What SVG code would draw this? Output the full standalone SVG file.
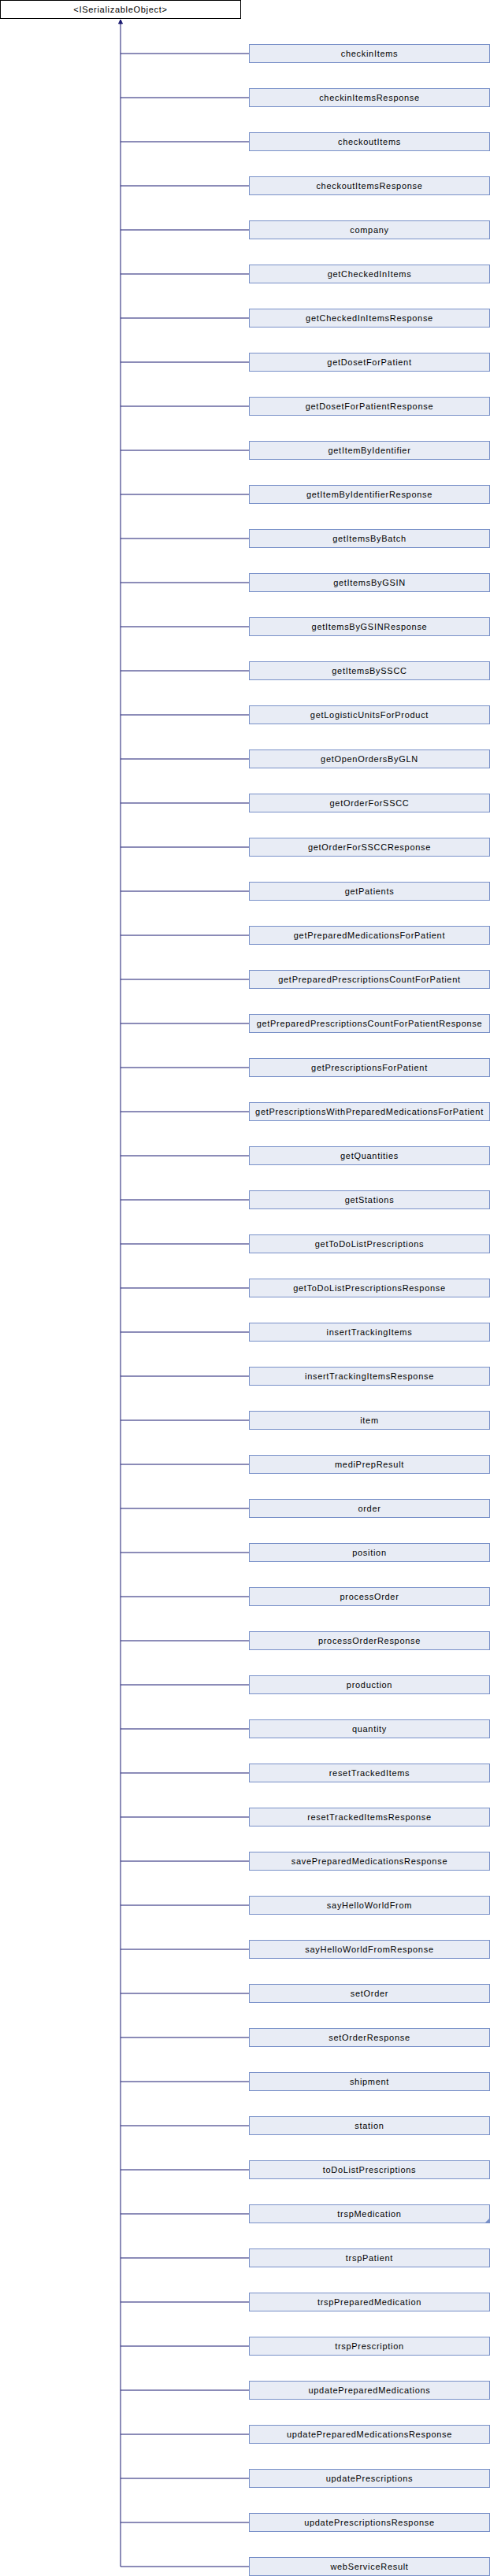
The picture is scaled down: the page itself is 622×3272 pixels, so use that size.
<svg xmlns="http://www.w3.org/2000/svg" width="622" height="3272" viewBox="0 0 622 3272">
<style>
.bg{fill:#ffffff}
.root rect{fill:#ffffff;stroke:#000000;stroke-width:1}
.node rect{fill:#e8ecf5;stroke:#7890c8;stroke-width:1}
text{font-family:"Liberation Sans",Arial,sans-serif;font-size:11px;letter-spacing:0.7px;text-anchor:middle;fill:#000000}
.edges path{stroke:#191970;stroke-width:1;fill:none}
</style>
<defs>
<marker id="tri" markerWidth="6" markerHeight="6" refX="5.5" refY="3" orient="auto" markerUnits="userSpaceOnUse" viewBox="0 0 6 6">
<path d="M0.5,0.5 L5.5,3 L0.5,5.5 Z" fill="#191970" stroke="#191970" stroke-width="1"/>
</marker>
</defs>
<rect class="bg" x="0" y="0" width="622" height="3272"/>
<g class="edges" id="connectors">
<path d="M153,3260 V25" marker-end="url(#tri)"/>
<path d="M153,68H316.5M153,124H316.5M153,180H316.5M153,236H316.5M153,292H316.5M153,348H316.5M153,404H316.5M153,460H316.5M153,516H316.5M153,572H316.5M153,628H316.5M153,684H316.5M153,740H316.5M153,796H316.5M153,852H316.5M153,908H316.5M153,964H316.5M153,1020H316.5M153,1076H316.5M153,1132H316.5M153,1188H316.5M153,1244H316.5M153,1300H316.5M153,1356H316.5M153,1412H316.5M153,1468H316.5M153,1524H316.5M153,1580H316.5M153,1636H316.5M153,1692H316.5M153,1748H316.5M153,1804H316.5M153,1860H316.5M153,1916H316.5M153,1972H316.5M153,2028H316.5M153,2084H316.5M153,2140H316.5M153,2196H316.5M153,2252H316.5M153,2308H316.5M153,2364H316.5M153,2420H316.5M153,2476H316.5M153,2532H316.5M153,2588H316.5M153,2644H316.5M153,2700H316.5M153,2756H316.5M153,2812H316.5M153,2868H316.5M153,2924H316.5M153,2980H316.5M153,3036H316.5M153,3092H316.5M153,3148H316.5M153,3204H316.5M153,3260H316.5"/>
</g>
<g class="root" id="ISerializableObject"><rect x="0.5" y="0.5" width="305" height="23"/><text x="153" y="15.5">&lt;ISerializableObject&gt;</text></g>
<g class="node" id="checkinItems"><rect x="316.5" y="56.5" width="305" height="23"/><text x="469" y="71.5">checkinItems</text></g>
<g class="node" id="checkinItemsResponse"><rect x="316.5" y="112.5" width="305" height="23"/><text x="469" y="127.5">checkinItemsResponse</text></g>
<g class="node" id="checkoutItems"><rect x="316.5" y="168.5" width="305" height="23"/><text x="469" y="183.5">checkoutItems</text></g>
<g class="node" id="checkoutItemsResponse"><rect x="316.5" y="224.5" width="305" height="23"/><text x="469" y="239.5">checkoutItemsResponse</text></g>
<g class="node" id="company"><rect x="316.5" y="280.5" width="305" height="23"/><text x="469" y="295.5">company</text></g>
<g class="node" id="getCheckedInItems"><rect x="316.5" y="336.5" width="305" height="23"/><text x="469" y="351.5">getCheckedInItems</text></g>
<g class="node" id="getCheckedInItemsResponse"><rect x="316.5" y="392.5" width="305" height="23"/><text x="469" y="407.5">getCheckedInItemsResponse</text></g>
<g class="node" id="getDosetForPatient"><rect x="316.5" y="448.5" width="305" height="23"/><text x="469" y="463.5">getDosetForPatient</text></g>
<g class="node" id="getDosetForPatientResponse"><rect x="316.5" y="504.5" width="305" height="23"/><text x="469" y="519.5">getDosetForPatientResponse</text></g>
<g class="node" id="getItemByIdentifier"><rect x="316.5" y="560.5" width="305" height="23"/><text x="469" y="575.5">getItemByIdentifier</text></g>
<g class="node" id="getItemByIdentifierResponse"><rect x="316.5" y="616.5" width="305" height="23"/><text x="469" y="631.5">getItemByIdentifierResponse</text></g>
<g class="node" id="getItemsByBatch"><rect x="316.5" y="672.5" width="305" height="23"/><text x="469" y="687.5">getItemsByBatch</text></g>
<g class="node" id="getItemsByGSIN"><rect x="316.5" y="728.5" width="305" height="23"/><text x="469" y="743.5">getItemsByGSIN</text></g>
<g class="node" id="getItemsByGSINResponse"><rect x="316.5" y="784.5" width="305" height="23"/><text x="469" y="799.5">getItemsByGSINResponse</text></g>
<g class="node" id="getItemsBySSCC"><rect x="316.5" y="840.5" width="305" height="23"/><text x="469" y="855.5">getItemsBySSCC</text></g>
<g class="node" id="getLogisticUnitsForProduct"><rect x="316.5" y="896.5" width="305" height="23"/><text x="469" y="911.5">getLogisticUnitsForProduct</text></g>
<g class="node" id="getOpenOrdersByGLN"><rect x="316.5" y="952.5" width="305" height="23"/><text x="469" y="967.5">getOpenOrdersByGLN</text></g>
<g class="node" id="getOrderForSSCC"><rect x="316.5" y="1008.5" width="305" height="23"/><text x="469" y="1023.5">getOrderForSSCC</text></g>
<g class="node" id="getOrderForSSCCResponse"><rect x="316.5" y="1064.5" width="305" height="23"/><text x="469" y="1079.5">getOrderForSSCCResponse</text></g>
<g class="node" id="getPatients"><rect x="316.5" y="1120.5" width="305" height="23"/><text x="469" y="1135.5">getPatients</text></g>
<g class="node" id="getPreparedMedicationsForPatient"><rect x="316.5" y="1176.5" width="305" height="23"/><text x="469" y="1191.5">getPreparedMedicationsForPatient</text></g>
<g class="node" id="getPreparedPrescriptionsCountForPatient"><rect x="316.5" y="1232.5" width="305" height="23"/><text x="469" y="1247.5">getPreparedPrescriptionsCountForPatient</text></g>
<g class="node" id="getPreparedPrescriptionsCountForPatientResponse"><rect x="316.5" y="1288.5" width="305" height="23"/><text x="469" y="1303.5">getPreparedPrescriptionsCountForPatientResponse</text></g>
<g class="node" id="getPrescriptionsForPatient"><rect x="316.5" y="1344.5" width="305" height="23"/><text x="469" y="1359.5">getPrescriptionsForPatient</text></g>
<g class="node" id="getPrescriptionsWithPreparedMedicationsForPatient"><rect x="316.5" y="1400.5" width="305" height="23"/><text x="469" y="1415.5">getPrescriptionsWithPreparedMedicationsForPatient</text></g>
<g class="node" id="getQuantities"><rect x="316.5" y="1456.5" width="305" height="23"/><text x="469" y="1471.5">getQuantities</text></g>
<g class="node" id="getStations"><rect x="316.5" y="1512.5" width="305" height="23"/><text x="469" y="1527.5">getStations</text></g>
<g class="node" id="getToDoListPrescriptions"><rect x="316.5" y="1568.5" width="305" height="23"/><text x="469" y="1583.5">getToDoListPrescriptions</text></g>
<g class="node" id="getToDoListPrescriptionsResponse"><rect x="316.5" y="1624.5" width="305" height="23"/><text x="469" y="1639.5">getToDoListPrescriptionsResponse</text></g>
<g class="node" id="insertTrackingItems"><rect x="316.5" y="1680.5" width="305" height="23"/><text x="469" y="1695.5">insertTrackingItems</text></g>
<g class="node" id="insertTrackingItemsResponse"><rect x="316.5" y="1736.5" width="305" height="23"/><text x="469" y="1751.5">insertTrackingItemsResponse</text></g>
<g class="node" id="item"><rect x="316.5" y="1792.5" width="305" height="23"/><text x="469" y="1807.5">item</text></g>
<g class="node" id="mediPrepResult"><rect x="316.5" y="1848.5" width="305" height="23"/><text x="469" y="1863.5">mediPrepResult</text></g>
<g class="node" id="order"><rect x="316.5" y="1904.5" width="305" height="23"/><text x="469" y="1919.5">order</text></g>
<g class="node" id="position"><rect x="316.5" y="1960.5" width="305" height="23"/><text x="469" y="1975.5">position</text></g>
<g class="node" id="processOrder"><rect x="316.5" y="2016.5" width="305" height="23"/><text x="469" y="2031.5">processOrder</text></g>
<g class="node" id="processOrderResponse"><rect x="316.5" y="2072.5" width="305" height="23"/><text x="469" y="2087.5">processOrderResponse</text></g>
<g class="node" id="production"><rect x="316.5" y="2128.5" width="305" height="23"/><text x="469" y="2143.5">production</text></g>
<g class="node" id="quantity"><rect x="316.5" y="2184.5" width="305" height="23"/><text x="469" y="2199.5">quantity</text></g>
<g class="node" id="resetTrackedItems"><rect x="316.5" y="2240.5" width="305" height="23"/><text x="469" y="2255.5">resetTrackedItems</text></g>
<g class="node" id="resetTrackedItemsResponse"><rect x="316.5" y="2296.5" width="305" height="23"/><text x="469" y="2311.5">resetTrackedItemsResponse</text></g>
<g class="node" id="savePreparedMedicationsResponse"><rect x="316.5" y="2352.5" width="305" height="23"/><text x="469" y="2367.5">savePreparedMedicationsResponse</text></g>
<g class="node" id="sayHelloWorldFrom"><rect x="316.5" y="2408.5" width="305" height="23"/><text x="469" y="2423.5">sayHelloWorldFrom</text></g>
<g class="node" id="sayHelloWorldFromResponse"><rect x="316.5" y="2464.5" width="305" height="23"/><text x="469" y="2479.5">sayHelloWorldFromResponse</text></g>
<g class="node" id="setOrder"><rect x="316.5" y="2520.5" width="305" height="23"/><text x="469" y="2535.5">setOrder</text></g>
<g class="node" id="setOrderResponse"><rect x="316.5" y="2576.5" width="305" height="23"/><text x="469" y="2591.5">setOrderResponse</text></g>
<g class="node" id="shipment"><rect x="316.5" y="2632.5" width="305" height="23"/><text x="469" y="2647.5">shipment</text></g>
<g class="node" id="station"><rect x="316.5" y="2688.5" width="305" height="23"/><text x="469" y="2703.5">station</text></g>
<g class="node" id="toDoListPrescriptions"><rect x="316.5" y="2744.5" width="305" height="23"/><text x="469" y="2759.5">toDoListPrescriptions</text></g>
<g class="node" id="trspMedication"><rect x="316.5" y="2800.5" width="305" height="23"/><text x="469" y="2815.5">trspMedication</text><polygon points="621.5,2817.5 621.5,2823.5 615.5,2823.5" fill="#7890c8"/></g>
<g class="node" id="trspPatient"><rect x="316.5" y="2856.5" width="305" height="23"/><text x="469" y="2871.5">trspPatient</text></g>
<g class="node" id="trspPreparedMedication"><rect x="316.5" y="2912.5" width="305" height="23"/><text x="469" y="2927.5">trspPreparedMedication</text></g>
<g class="node" id="trspPrescription"><rect x="316.5" y="2968.5" width="305" height="23"/><text x="469" y="2983.5">trspPrescription</text></g>
<g class="node" id="updatePreparedMedications"><rect x="316.5" y="3024.5" width="305" height="23"/><text x="469" y="3039.5">updatePreparedMedications</text></g>
<g class="node" id="updatePreparedMedicationsResponse"><rect x="316.5" y="3080.5" width="305" height="23"/><text x="469" y="3095.5">updatePreparedMedicationsResponse</text></g>
<g class="node" id="updatePrescriptions"><rect x="316.5" y="3136.5" width="305" height="23"/><text x="469" y="3151.5">updatePrescriptions</text></g>
<g class="node" id="updatePrescriptionsResponse"><rect x="316.5" y="3192.5" width="305" height="23"/><text x="469" y="3207.5">updatePrescriptionsResponse</text></g>
<g class="node" id="webServiceResult"><rect x="316.5" y="3248.5" width="305" height="23"/><text x="469" y="3263.5">webServiceResult</text></g>
</svg>
